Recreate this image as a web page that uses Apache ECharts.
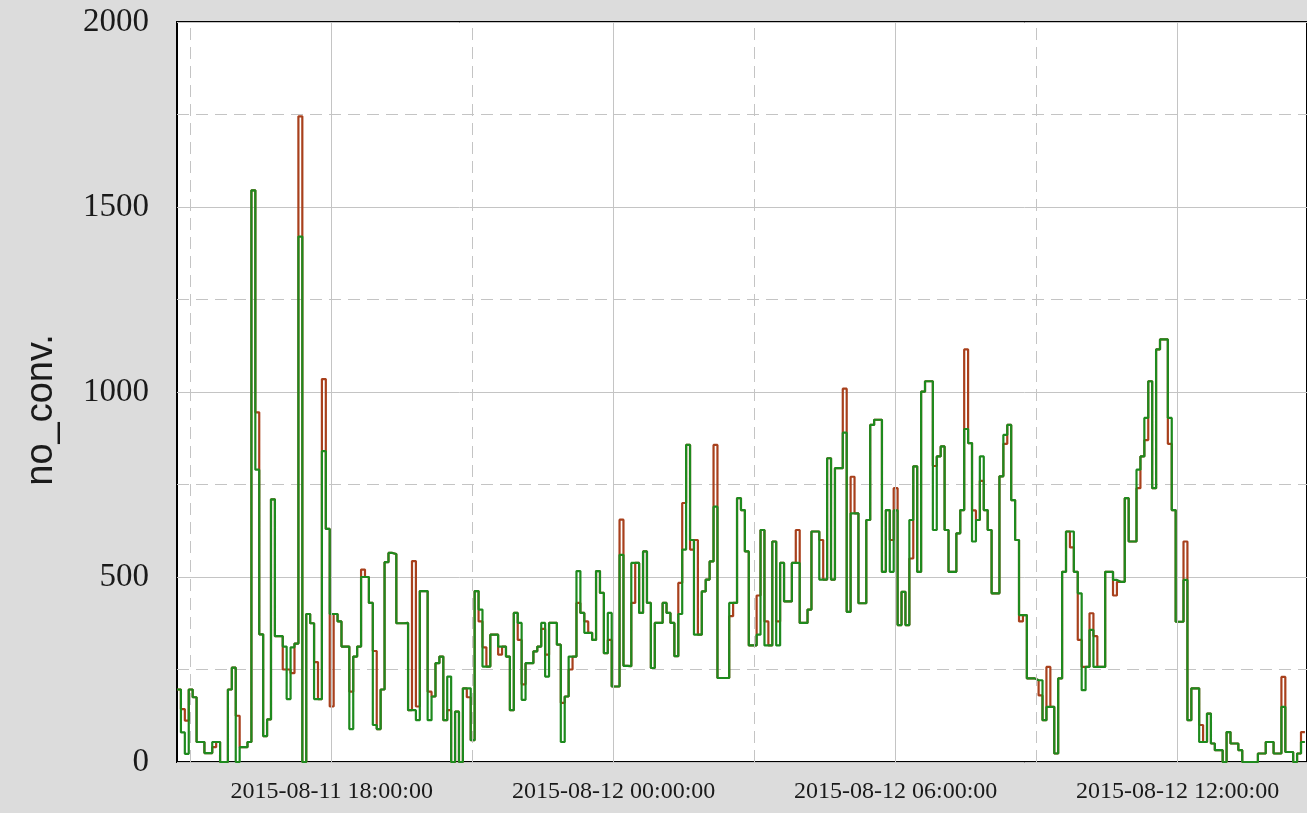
<!DOCTYPE html>
<html><head><meta charset="utf-8">
<script src="https://cdn.jsdelivr.net/npm/echarts@6/dist/echarts.min.js"></script>
<style>html,body{margin:0;padding:0;background:#dcdcdc;} #c{width:1307px;height:813px;}</style>
</head><body><div id="c"></div>
<script>
// ---- data ----
const startTime = '2015-08-11 14:42:30';
const stepMinutes = 5;
const axisStart = '2015-08-11 14:42:30';
const axisEnd = '2015-08-12 14:45:10';
const yAxisName = 'no_conv.';
const yTicks = [0, 500, 1000, 1500, 2000];
const xMajorTicks = ['2015-08-11 18:00:00','2015-08-12 00:00:00','2015-08-12 06:00:00','2015-08-12 12:00:00'];
const xMinorTicks = ['2015-08-11 15:00:00','2015-08-11 21:00:00','2015-08-12 03:00:00','2015-08-12 09:00:00'];

const greenValues = [
196,80,22,196,175,54,54,24,24,54,
54,0,0,196,255,0,40,40,54,1545,
790,345,70,115,710,340,340,312,170,310,
320,1420,0,400,375,170,170,840,630,400,
400,380,312,312,89,285,312,500,500,430,
100,89,196,540,565,562,375,375,376,140,
140,113,462,462,113,177,267,285,113,231,
0,136,0,199,199,59,462,412,258,258,
344,344,312,312,285,140,403,376,168,267,
267,299,312,376,231,376,376,317,54,177,
285,285,516,403,349,349,330,516,457,294,
403,204,204,560,260,259,538,538,403,569,
430,254,376,376,430,403,376,286,400,574,
857,600,344,344,461,493,542,690,227,227,
227,430,430,713,681,569,315,315,344,627,
315,315,596,315,538,434,434,538,538,376,
376,412,623,623,493,493,821,493,794,794,
890,406,672,672,429,429,654,911,925,925,
514,681,514,680,370,460,370,654,799,514,
1001,1029,1029,627,826,853,627,514,514,618,
681,900,862,596,654,826,681,627,456,456,
772,884,911,708,600,397,397,226,226,221,
221,113,149,149,23,226,514,623,623,514,
456,194,257,357,257,257,257,514,514,492,
487,487,713,596,596,790,826,930,1029,740,
1115,1142,1142,930,681,379,379,492,113,199,
199,54,54,131,50,32,32,0,81,50,
50,32,0,0,0,0,23,23,54,54,
23,23,149,27,27,0,23,54
];

const redValues = [
196,143,112,196,175,54,54,24,24,40,
54,0,0,196,255,125,40,40,54,1545,
945,345,70,115,710,340,340,250,250,240,
320,1745,0,400,375,270,170,1035,630,150,
400,380,312,312,190,285,312,520,500,430,
300,89,196,540,565,562,375,375,376,140,
543,150,462,462,190,177,267,285,113,140,
0,136,0,199,175,59,462,380,310,258,
344,344,290,312,285,140,403,330,210,267,
267,299,312,360,290,376,376,317,160,177,
250,285,430,403,380,349,330,516,457,294,
330,204,204,655,260,259,430,538,403,569,
430,254,376,376,430,403,376,286,484,700,
857,574,600,344,461,493,542,857,227,227,
227,394,430,713,681,569,315,315,450,627,
380,315,596,380,538,434,434,538,627,376,
376,412,623,623,600,493,821,493,794,794,
1009,406,771,672,429,429,654,911,925,925,
514,681,600,740,370,460,370,550,799,514,
1001,1029,1029,800,826,853,627,514,514,618,
681,1115,862,680,654,760,681,627,456,456,
772,860,911,708,600,380,397,226,226,221,
180,113,257,149,23,226,514,623,580,514,
330,257,257,402,340,257,257,514,514,450,
487,487,713,596,596,740,826,870,1029,740,
1115,1142,1142,860,681,379,379,596,113,199,
199,100,54,131,50,32,32,0,81,50,
50,32,0,0,0,0,23,23,54,54,
23,23,230,27,27,0,23,81
];

// ---- helpers ----
function parseT(s){ const [d,t]=s.split(' '); const [Y,M,D]=d.split('-').map(Number); const [h,m,sec]=t.split(':').map(Number); return new Date(Y,M-1,D,h,m,sec).getTime(); }
function pad(n){return n<10?'0'+n:''+n;}
function fmt(ms){const d=new Date(ms); return d.getFullYear()+'-'+pad(d.getMonth()+1)+'-'+pad(d.getDate())+' '+pad(d.getHours())+':'+pad(d.getMinutes())+':'+pad(d.getSeconds());}
const t0 = parseT(startTime);
const stepMs = stepMinutes*60000;
function toSeries(vals){ const out = vals.map((v,i)=>[t0+i*stepMs, v]); out.push([t0+vals.length*stepMs, vals[vals.length-1]]); return out; }

const gridColor = '#c4c4c4';
const chart = echarts.init(document.getElementById('c'), null, {renderer:'canvas'});
chart.setOption({
  animation: false,
  backgroundColor: '#dcdcdc',
  grid: { left: 177, top: 22, right: -2, bottom: 51, show: true, backgroundColor: '#ffffff', borderColor: '#000000', borderWidth: 2 },
  xAxis: {
    type: 'value', min: parseT(axisStart), max: parseT(axisEnd),
    splitLine: {show:false}, axisLine:{show:false}, axisTick:{show:false},
    axisLabel: { customValues: xMajorTicks.map(parseT), formatter: v => fmt(v), fontFamily: 'Liberation Serif', fontSize: 24, color: '#1a1a1a', margin: 18 }
  },
  yAxis: {
    type: 'value', min: yTicks[0], max: yTicks[yTicks.length-1], interval: 500,
    axisLine:{show:false}, axisTick:{show:false},
    splitLine: { show: true, lineStyle: { color: gridColor, width: 1, type: 'solid' } },
    minorTick: { show: false, splitNumber: 2 },
    minorSplitLine: { show: true, lineStyle: { color: gridColor, width: 1, type: [12, 7] } },
    axisLabel: { formatter: v => String(v), fontFamily: 'Liberation Serif', fontSize: 33, color: '#1a1a1a', margin: 28 }
  },
  graphic: [{
    type: 'text', x: 42, y: 410, rotation: Math.PI/2,
    style: { text: yAxisName, fontFamily: 'Liberation Sans', fontSize: 38, fill: '#1a1a1a', align: 'center', verticalAlign: 'middle' }
  }],
  series: [
    { type: 'line', z: 1, data: [], silent: true,
      markLine: { silent: true, symbol: ['none','none'], label: {show:false}, animation: false,
        data: xMajorTicks.map(t => ({ xAxis: parseT(t), lineStyle: { color: gridColor, width: 1, type: 'solid' } }))
          .concat(xMinorTicks.map(t => ({ xAxis: parseT(t), lineStyle: { color: gridColor, width: 1, type: [12, 7] } }))) } },
    { name: 'red', type: 'line', step: 'end', z: 3, showSymbol: false, data: toSeries(redValues), lineStyle: { color: '#a8401c', width: 2.2 }, itemStyle: {color:'#a8401c'} },
    { name: 'green', type: 'line', step: 'end', z: 4, showSymbol: false, data: toSeries(greenValues), lineStyle: { color: '#1e8a1e', width: 2.2 }, itemStyle: {color:'#1e8a1e'} }
  ]
});
</script>
</body></html>
